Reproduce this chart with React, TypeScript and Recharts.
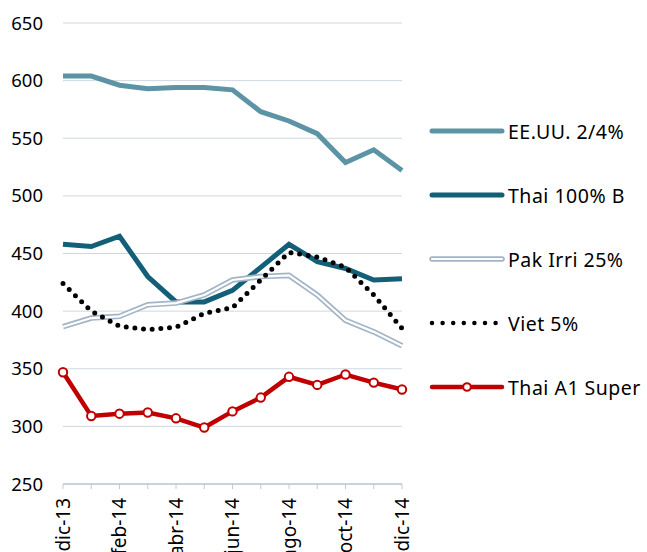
import { CartesianGrid, Line, LineChart, XAxis, YAxis } from "recharts";

const meses = ["dic-13", "ene-14", "feb-14", "mar-14", "abr-14", "may-14", "jun-14", "jul-14", "ago-14", "sep-14", "oct-14", "nov-14", "dic-14"];
const eeuu = [604, 604, 596, 593, 594, 594, 592, 573, 565, 554, 529, 540, 522];
const thaiB = [458, 456, 465, 430, 408, 408, 418, 438, 458, 443, 437, 427, 428];
const pakIrri = [386.5, 394, 395.5, 405.5, 407, 414, 427, 430, 431, 414, 392, 382, 370];
const viet = [424, 400, 387, 384, 386, 398, 403, 427, 451, 447, 438, 414, 385];
const thaiA1 = [347, 309, 311, 312, 307, 299, 313, 325, 343, 336, 345, 338, 332];
const yTicks = [250, 300, 350, 400, 450, 500, 550, 600, 650];

const C_EEUU = "#5C94A6";
const C_THAIB = "#135F78";
const C_PAK = "#A3B4C6";
const C_A1 = "#C00000";

const FONT = "'Noto Sans', sans-serif";

const data = meses.map((mes, i) => ({
  mes,
  eeuu: eeuu[i],
  thaiB: thaiB[i],
  pakIrri: pakIrri[i],
  viet: viet[i],
  thaiA1: thaiA1[i],
}));

const legendItems = [
  { name: "EE.UU. 2/4%", kind: "solid", color: C_EEUU },
  { name: "Thai 100% B", kind: "solid", color: C_THAIB },
  { name: "Pak Irri 25%", kind: "double", color: C_PAK },
  { name: "Viet 5%", kind: "dots", color: "#000" },
  { name: "Thai A1 Super", kind: "marker", color: C_A1 },
];

function Swatch({ kind, color }: { kind: string; color: string }) {
  return (
    <svg width={76} height={12} style={{ display: "block" }}>
      {kind === "solid" && <line x1={3} y1={6} x2={73} y2={6} stroke={color} strokeWidth={5} strokeLinecap="round" />}
      {kind === "double" && (
        <>
          <line x1={3} y1={6} x2={73} y2={6} stroke={color} strokeWidth={5.5} strokeLinecap="round" />
          <line x1={3} y1={6} x2={73} y2={6} stroke="#fff" strokeWidth={2.2} strokeLinecap="round" />
        </>
      )}
      {kind === "dots" && (
        <line x1={3} y1={6} x2={73} y2={6} stroke={color} strokeWidth={4.5} strokeLinecap="round" strokeDasharray="0 10.6" />
      )}
      {kind === "marker" && (
        <>
          <line x1={3} y1={6} x2={73} y2={6} stroke={color} strokeWidth={4.5} strokeLinecap="round" />
          <circle cx={38} cy={6} r={3.8} fill="#fff" stroke={color} strokeWidth={2} />
        </>
      )}
    </svg>
  );
}

function CustomLegend() {
  return (
    <div style={{ position: "absolute", left: 429, top: 99, fontFamily: FONT, fontSize: 19.5, letterSpacing: 0.5, color: "#000" }}>
      {legendItems.map(item => (
        <div key={item.name} style={{ display: "flex", alignItems: "center", height: 64 }}>
          <Swatch kind={item.kind} color={item.color} />
          <span style={{ marginLeft: 3, whiteSpace: "nowrap" }}>{item.name}</span>
        </div>
      ))}
    </div>
  );
}

function MonthTick(props: any) {
  const { x, y, payload, index } = props;
  if (index % 2 !== 0) return null;
  return (
    <text
      x={x}
      y={y}
      transform={`rotate(-90, ${x}, ${y})`}
      textAnchor="end"
      dy="0.35em"
      fontFamily={FONT}
      fontSize={19}
      fill="#000"
    >
      {payload.value}
    </text>
  );
}

export default function App() {
  return (
    <div style={{ position: "absolute", left: 0, top: 0, width: 647, height: 552, background: "#fff", overflow: "hidden" }}>
      <LineChart width={647} height={552} data={data} margin={{ top: 23, right: 245, left: 0, bottom: 0 }}>
        <CartesianGrid vertical={false} stroke="#CFD8E0" strokeWidth={1} />
        <XAxis
          dataKey="mes"
          interval={0}
          height={68}
          tick={<MonthTick />}
          tickSize={5}
          tickMargin={9}
          axisLine={{ stroke: "#BFCAD5", strokeWidth: 1.5 }}
          tickLine={{ stroke: "#BFCAD5", strokeWidth: 1 }}
        />
        <YAxis
          domain={[250, 650]}
          ticks={yTicks}
          interval={0}
          width={63}
          axisLine={false}
          tickLine={false}
          tickMargin={14}
          tick={{ fontFamily: FONT, fontSize: 18.5, fill: "#000" }}
        />
        <Line dataKey="eeuu" stroke={C_EEUU} strokeWidth={5} dot={false} isAnimationActive={false} />
        <Line dataKey="thaiB" stroke={C_THAIB} strokeWidth={5} dot={false} isAnimationActive={false} />
        <Line dataKey="pakIrri" stroke={C_PAK} strokeWidth={5.5} dot={false} isAnimationActive={false} />
        <Line dataKey="pakIrri" stroke="#fff" strokeWidth={2.2} dot={false} isAnimationActive={false} />
        <Line
          dataKey="viet"
          stroke="#000"
          strokeWidth={5}
          strokeLinecap="round"
          strokeDasharray="0 8.7"
          dot={false}
          isAnimationActive={false}
        />
        <Line
          dataKey="thaiA1"
          stroke={C_A1}
          strokeWidth={4.5}
          dot={{ r: 4.2, fill: "#fff", stroke: C_A1, strokeWidth: 2 }}
          isAnimationActive={false}
        />
      </LineChart>
      <CustomLegend />
    </div>
  );
}
